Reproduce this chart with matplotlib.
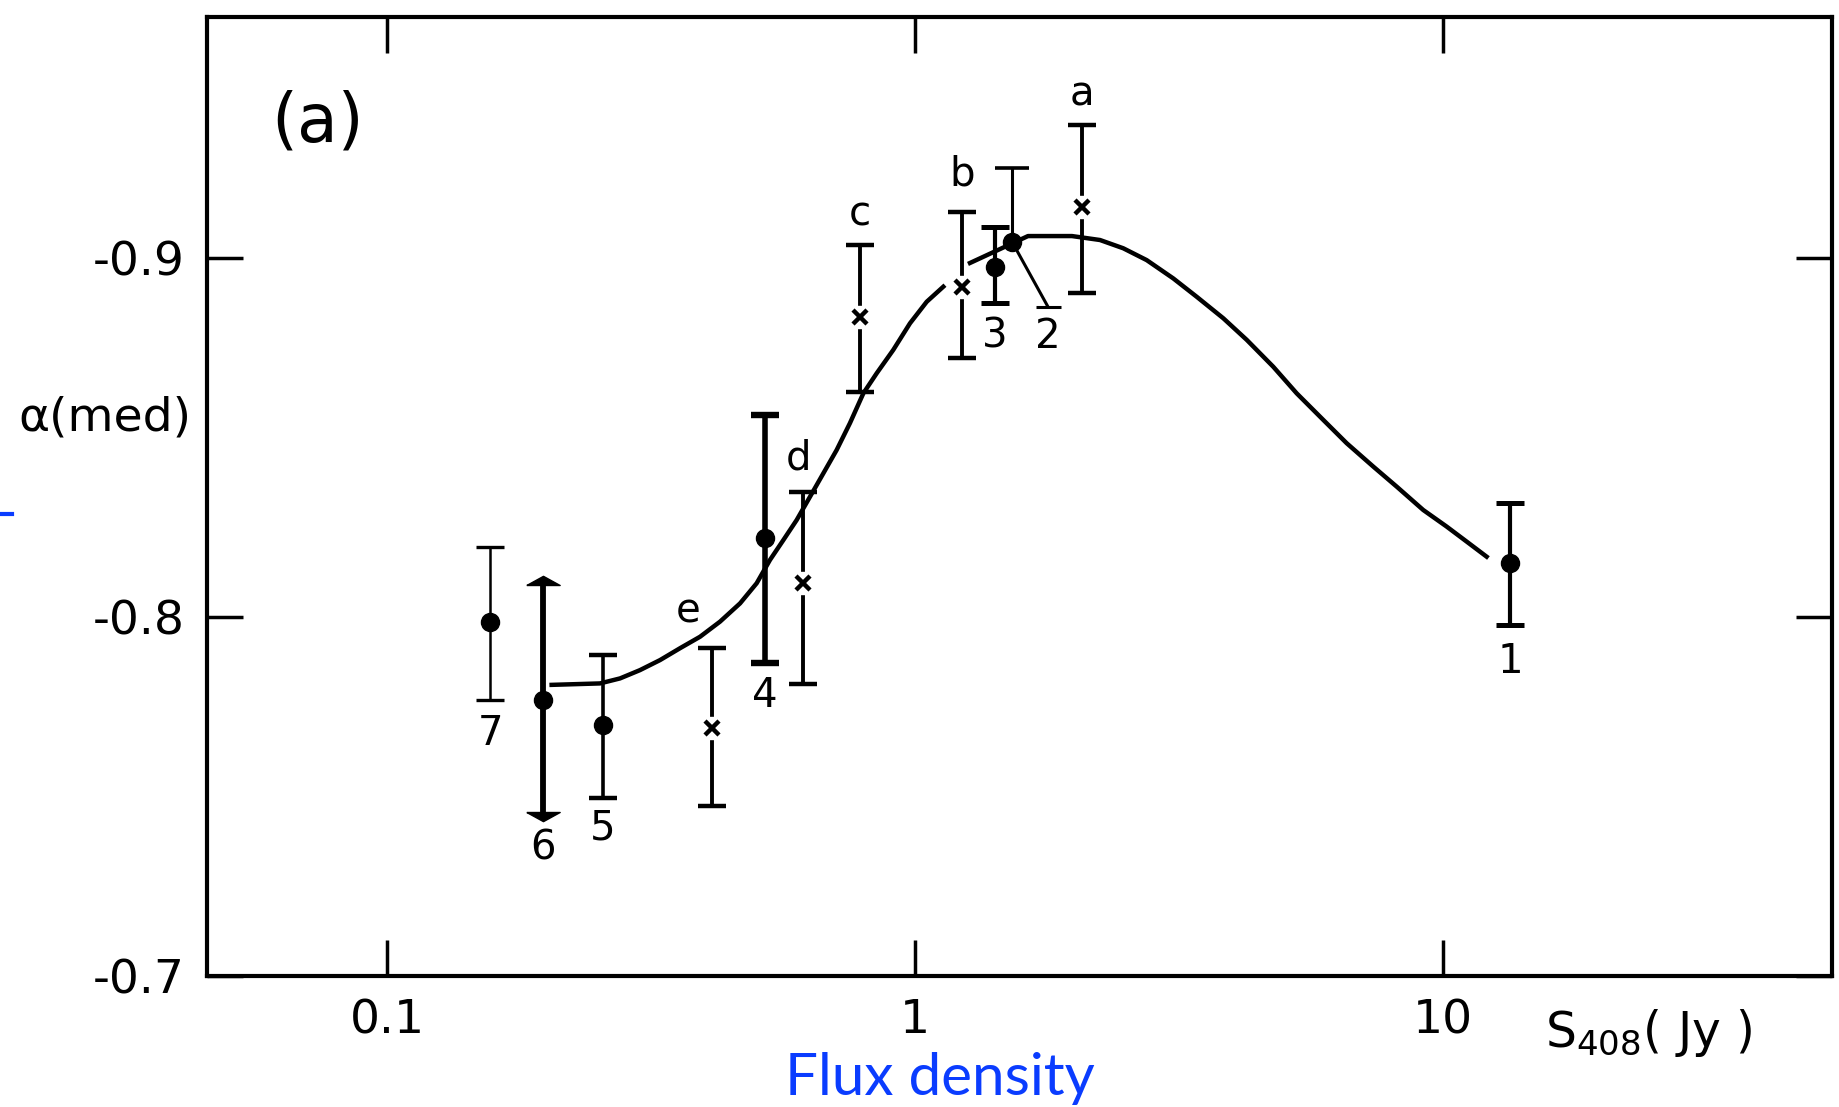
import matplotlib
matplotlib.use("Agg")
import matplotlib.pyplot as plt
from matplotlib.lines import Line2D
from matplotlib.ticker import NullLocator

plt.rcParams['font.family'] = ['DejaVu Sans']
plt.rcParams['mathtext.fontset'] = 'dejavusans'

# samples plotted as filled dots (label, S408, alpha median, error ends)
dot_labels = ['1', '2', '3', '4', '5', '6', '7']
dot_x = [13.4, 1.527, 1.418, 0.520, 0.2565, 0.1975, 0.157]
dot_y = [-0.815, -0.9045, -0.8975, -0.8221, -0.7699, -0.7769, -0.7986]
dot_hi = [-0.8318, -0.925, -0.9086, -0.8563, -0.7894, -0.809, -0.8195]
dot_lo = [-0.7978, -0.8864, -0.8875, -0.7872, -0.7496, -0.7457, -0.777]
two_low_x = 1.786  # lower bar of sample 2 is drawn off to the side

# samples plotted as crosses
cross_labels = ['a', 'b', 'c', 'd', 'e']
cross_x = [2.071, 1.228, 0.787, 0.614, 0.4125]
cross_y = [-0.9142, -0.8919, -0.8836, -0.8095, -0.7691]
cross_hi = [-0.937, -0.9128, -0.9036, -0.8348, -0.7914]
cross_lo = [-0.8903, -0.8721, -0.8627, -0.7813, -0.7474]

# hand drawn curve, two pieces
curve1_x = [0.2050, 0.2531, 0.2763, 0.3013, 0.3289, 0.3588, 0.3916, 0.4272, 0.4663, 0.5013,
            0.5313, 0.5630, 0.5968, 0.6326, 0.6704, 0.7105, 0.7530, 0.7983, 0.8463, 0.9097,
            0.9784, 1.0524, 1.1315]
curve1_y = [-0.7811, -0.7815, -0.7829, -0.7852, -0.7880, -0.7913, -0.7945, -0.7987, -0.8038,
            -0.8094, -0.8159, -0.8214, -0.8270, -0.8335, -0.8400, -0.8465, -0.8540, -0.8623,
            -0.8679, -0.8744, -0.8818, -0.8878, -0.8920]
curve2_x = [1.271, 1.369, 1.637, 1.983, 2.241, 2.480, 2.747, 3.085, 3.416, 3.837, 4.249, 4.771,
            5.284, 5.933, 6.572, 7.379, 8.175, 9.177, 10.16, 11.09, 12.10]
curve2_y = [-0.8986, -0.9008, -0.9061, -0.9061, -0.9050, -0.9027, -0.8994, -0.8943, -0.8892,
            -0.8832, -0.8772, -0.8697, -0.8623, -0.8549, -0.8484, -0.8419, -0.8363, -0.8298,
            -0.8252, -0.8210, -0.8168]

xticks = [0.1, 1, 10]
xtick_labels = ['0.1', '1', '10']
yticks = [-0.9, -0.8, -0.7]
ytick_labels = ['-0.9', '-0.8', '-0.7']

blue = '#0a3cff'

fig = plt.figure(figsize=(18.4, 11.07), dpi=100)
ax = fig.add_axes([0.1125, 0.1183, 0.883, 0.8663])
ax.set_xscale('log')
ax.set_xlim(0.0456, 54.5)
ax.set_ylim(-0.7, -0.9671)
ax.set_xticks(xticks)
ax.set_xticklabels(xtick_labels)
ax.xaxis.set_minor_locator(NullLocator())
ax.set_yticks(yticks)
ax.set_yticklabels(ytick_labels)
ax.tick_params(direction='in', top=True, right=True, length=26, width=2.5,
               labelsize=34, pad=16)
for s in ax.spines.values():
    s.set_linewidth(3)

ax.plot(curve1_x, curve1_y, color='black', lw=3.2, zorder=2)
ax.plot(curve2_x, curve2_y, color='black', lw=3.2, zorder=2)

bar_lw = {'1': 3, '2': 2.2, '3': 3, '4': 4, '5': 2.6, '6': 4.2, '7': 1.8}
for lab, x, y, hi, lo in zip(dot_labels, dot_x, dot_y, dot_hi, dot_lo):
    lw = bar_lw[lab]
    if lab == '6':
        ax.plot([x, x], [hi, lo], color='black', lw=lw, zorder=3)
        head = [(-1, 0), (1, 0), (0, 0.55), (-1, 0)]
        ax.plot([x], [hi], marker=head, ms=24, color='black', zorder=4)
        ax.plot([x], [lo], marker=[(a, -b) for a, b in head], ms=24, color='black', zorder=4)
    elif lab == '2':
        ax.plot([x, x], [y, hi], color='black', lw=lw, zorder=3)
        ax.plot([x], [hi], marker='_', ms=24, mew=2.6, color='black', zorder=3)
        ax.plot([x, two_low_x], [y, lo], color='black', lw=lw, zorder=3)
        ax.plot([two_low_x], [lo], marker='_', ms=18, mew=2.2, color='black', zorder=3)
    else:
        ax.errorbar([x], [y], yerr=[[y - hi], [lo - y]], fmt='none', ecolor='black',
                    elinewidth=lw, capsize=10, capthick=lw + 0.6, zorder=3)
    ax.plot([x], [y], 'o', ms=13, color='black', zorder=5)

for x, y, hi, lo in zip(cross_x, cross_y, cross_hi, cross_lo):
    ax.errorbar([x], [y], yerr=[[y - hi], [lo - y]], fmt='none', ecolor='black',
                elinewidth=2.8, capsize=10, capthick=3.2, zorder=3)
    ax.plot([x], [y], 's', ms=16, color='white', zorder=4)
    ax.plot([x], [y], 'x', ms=10, mew=3.2, color='black', zorder=5)

# point labels, offsets in points from the bar ends
below = {'1': (0, -27), '3': (0, -24), '4': (0, -24), '5': (0, -22), '6': (0, -26), '7': (0, -25)}
for lab, x, lo in zip(dot_labels, dot_x, dot_lo):
    if lab == '2':
        ax.annotate(lab, (two_low_x, lo), xytext=(0, -22), textcoords='offset points',
                    ha='center', va='center', fontsize=29)
    else:
        ax.annotate(lab, (x, lo), xytext=below[lab], textcoords='offset points',
                    ha='center', va='center', fontsize=29)
above = {'a': (0, 22), 'b': (0, 27), 'c': (0, 22), 'd': (-3, 24), 'e': (-17, 26)}
for lab, x, hi in zip(cross_labels, cross_x, cross_hi):
    ax.annotate(lab, (x, hi), xytext=above[lab], textcoords='offset points',
                ha='center', va='center', fontsize=29)

ax.text(0.068, 0.89, '(a)', transform=ax.transAxes, ha='center', va='center', fontsize=48)
fig.text(0.057, 0.6224, '\u03b1(med)', ha='center', va='center', fontsize=34)
fig.text(0.8397, 0.054, r'S$_{\mathregular{408}}$( Jy )', ha='left', va='baseline', fontsize=35)

fig.text(0.511, 0.011, 'Flux density', ha='center', va='baseline', fontsize=42,
         color=blue, family='Lato')
fig.add_artist(Line2D([0, 0.0065], [0.5357, 0.5357], transform=fig.transFigure,
                      color=blue, lw=3))

fig.savefig('out.png', dpi=100)
